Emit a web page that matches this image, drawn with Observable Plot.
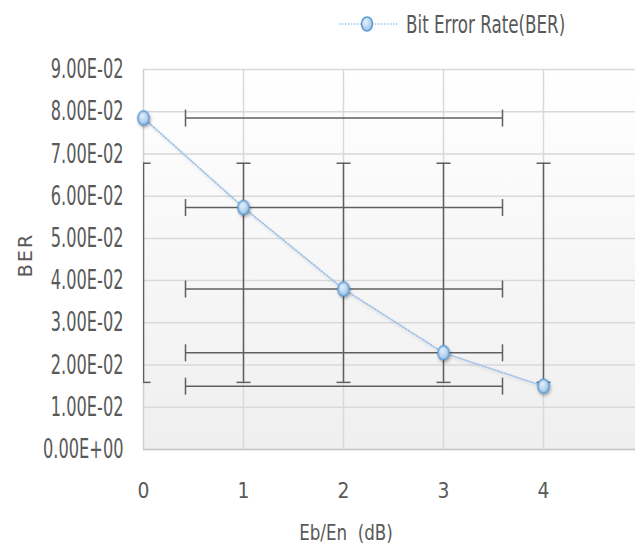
<!DOCTYPE html>
<html>
<head>
<meta charset="utf-8">
<script src="https://cdn.jsdelivr.net/npm/d3@7"></script>
<script src="https://cdn.jsdelivr.net/npm/@observablehq/plot@0.6"></script>
<style>
  html, body { margin: 0; padding: 0; background: #fff; }
  #legend { display: block; }
  svg text { font-family: "DejaVu Sans", sans-serif; fill: #595959; }
  #chart g[aria-label="y-axis tick label"] text { font-size: 27px; }
  #chart g[aria-label="x-axis tick label"] text { font-size: 22px; }
</style>
</head>
<body>
<svg id="legend" width="635" height="50">
  <defs><radialGradient id="dotGradL" cx="40%" cy="35%" r="65%"><stop offset="0%" stop-color="#e4effa"/><stop offset="100%" stop-color="#9dc3e6"/></radialGradient></defs>
  <line x1="339" y1="24" x2="398" y2="24" stroke="#9cc2ea" stroke-width="1.5" stroke-dasharray="1.5,1.5"/>
  <ellipse cx="367" cy="24" rx="5.5" ry="7" fill="url(#dotGradL)" stroke="#5b9bd5" stroke-width="1.5"/>
  <text transform="translate(406,33) scale(0.67,1)" style="font-size:25px">Bit Error Rate(BER)</text>
</svg>
<div id="chart"></div>
<script>
const ebn0 = [0, 1, 2, 3, 4];
const ber = [0.0785, 0.0573, 0.038, 0.0229, 0.015];
const xErrLow = [0.42, 0.42, 0.42, 0.42, 0.42];
const xErrHigh = [3.59, 3.59, 3.59, 3.59, 3.59];
const yErrLow = [0.0159, 0.0159, 0.0159, 0.0159, 0.0159];
const yErrHigh = [0.0678, 0.0678, 0.0678, 0.0678, 0.0678];
const yTicks = [0, 0.01, 0.02, 0.03, 0.04, 0.05, 0.06, 0.07, 0.08, 0.09];
const xTicks = [0, 1, 2, 3, 4];

const data = ebn0.map((x, i) => ({x, y: ber[i], xl: xErrLow[i], xh: xErrHigh[i], yl: yErrLow[i], yh: yErrHigh[i]}));

const vLine = {draw(ctx, size) { const r = Math.sqrt(size / Math.PI); ctx.moveTo(0, -r); ctx.lineTo(0, r); }};
const hLine = {draw(ctx, size) { const r = Math.sqrt(size / Math.PI); ctx.moveTo(-r, 0); ctx.lineTo(r, 0); }};
const ellipse = {draw(ctx, size) {
  const r = Math.sqrt(size / Math.PI);
  const rx = r * 0.8, ry = r, k = 0.5523;
  ctx.moveTo(rx, 0);
  ctx.bezierCurveTo(rx, ry * k, rx * k, ry, 0, ry);
  ctx.bezierCurveTo(-rx * k, ry, -rx, ry * k, -rx, 0);
  ctx.bezierCurveTo(-rx, -ry * k, -rx * k, -ry, 0, -ry);
  ctx.bezierCurveTo(rx * k, -ry, rx, -ry * k, rx, 0);
  ctx.closePath();
}};

const fmt = d => d === 0 ? "0.00E+00" : (d * 100).toFixed(2) + "E-02";
const errColor = "#5f5f5f";

const chart = Plot.plot({
  width: 635,
  height: 498,
  marginLeft: 143,
  marginRight: 0,
  marginTop: 19,
  marginBottom: 99,
  style: {fontFamily: "'DejaVu Sans', sans-serif", color: "#595959", background: "transparent"},
  x: {domain: [0, 4.92]},
  y: {domain: [0, 0.09]},
  marks: [
    Plot.frame({fill: "url(#bgGrad)", stroke: null}),
    Plot.gridY(yTicks, {stroke: "#d9d9d9", strokeOpacity: 1, strokeWidth: 1.5}),
    Plot.gridX(xTicks.slice(1), {stroke: "#d9d9d9", strokeOpacity: 1, strokeWidth: 1.5}),
    Plot.ruleX([0], {stroke: "#d0d0d0", strokeWidth: 1.5}),
    Plot.ruleY([0], {stroke: "#c8c8c8", strokeWidth: 1.5}),
    Plot.axisY(yTicks, {tickFormat: fmt, tickSize: 0, tickPadding: 20, label: null}),
    Plot.axisX(xTicks, {tickSize: 0, tickPadding: 33, label: null}),
    // vertical error bars
    Plot.ruleX(data, {x: "x", y1: "yl", y2: "yh", stroke: errColor, strokeWidth: 1.5, clip: true}),
    Plot.dot(data, {x: "x", y: "yl", symbol: hLine, r: 7, stroke: errColor, strokeWidth: 1.5, fill: null, clip: true}),
    Plot.dot(data, {x: "x", y: "yh", symbol: hLine, r: 7, stroke: errColor, strokeWidth: 1.5, fill: null, clip: true}),
    // horizontal error bars
    Plot.ruleY(data, {y: "y", x1: "xl", x2: "xh", stroke: errColor, strokeWidth: 1.5}),
    Plot.dot(data, {x: "xl", y: "y", symbol: vLine, r: 8.5, stroke: errColor, strokeWidth: 1.5, fill: null}),
    Plot.dot(data, {x: "xh", y: "y", symbol: vLine, r: 8.5, stroke: errColor, strokeWidth: 1.5, fill: null}),
    // series
    Plot.line(data, {x: "x", y: "y", stroke: "#9cc2ea", strokeWidth: 1.6, strokeDasharray: "1.5,1.8", className: "serline"}),
    Plot.dot(data, {x: "x", y: "y", symbol: ellipse, r: 7, fill: "url(#dotGrad)", stroke: "#5b9bd5", strokeWidth: 1.5, className: "serdots"})
  ]
});

const svg = d3.select(chart);
const defs = svg.insert("defs", ":first-child");
const bg = defs.append("linearGradient").attr("id", "bgGrad").attr("x1", 0).attr("y1", 0).attr("x2", 0).attr("y2", 1);
bg.append("stop").attr("offset", "0%").attr("stop-color", "#ffffff");
bg.append("stop").attr("offset", "100%").attr("stop-color", "#efefef");
const dg = defs.append("radialGradient").attr("id", "dotGrad").attr("cx", "40%").attr("cy", "35%").attr("r", "65%");
dg.append("stop").attr("offset", "0%").attr("stop-color", "#e4effa");
dg.append("stop").attr("offset", "100%").attr("stop-color", "#9dc3e6");
svg.selectAll(".serdots").style("filter", "drop-shadow(1px 2px 1.5px rgba(0,0,0,0.3))");
svg.selectAll(".serline").style("filter", "drop-shadow(1px 2px 1.5px rgba(0,0,0,0.12))");

// horizontally condensed tick labels
svg.selectAll('g[aria-label="y-axis tick label"] text').attr("transform", function() { return d3.select(this).attr("transform") + " scale(0.6,1)"; });
svg.selectAll('g[aria-label="x-axis tick label"] text').attr("transform", function() { return d3.select(this).attr("transform") + " scale(0.85,1)"; });

// axis titles
svg.append("text").attr("transform", "translate(346,490) scale(0.76,1)").attr("text-anchor", "middle")
  .style("font-size", "22px").text("Eb/En  (dB)");
svg.append("text").attr("transform", "translate(24.5,205) rotate(-90)").attr("text-anchor", "middle").attr("dominant-baseline", "central")
  .style("font-size", "19px").style("letter-spacing", "2px").text("BER");

document.getElementById("chart").appendChild(chart);
</script>
</body>
</html>
